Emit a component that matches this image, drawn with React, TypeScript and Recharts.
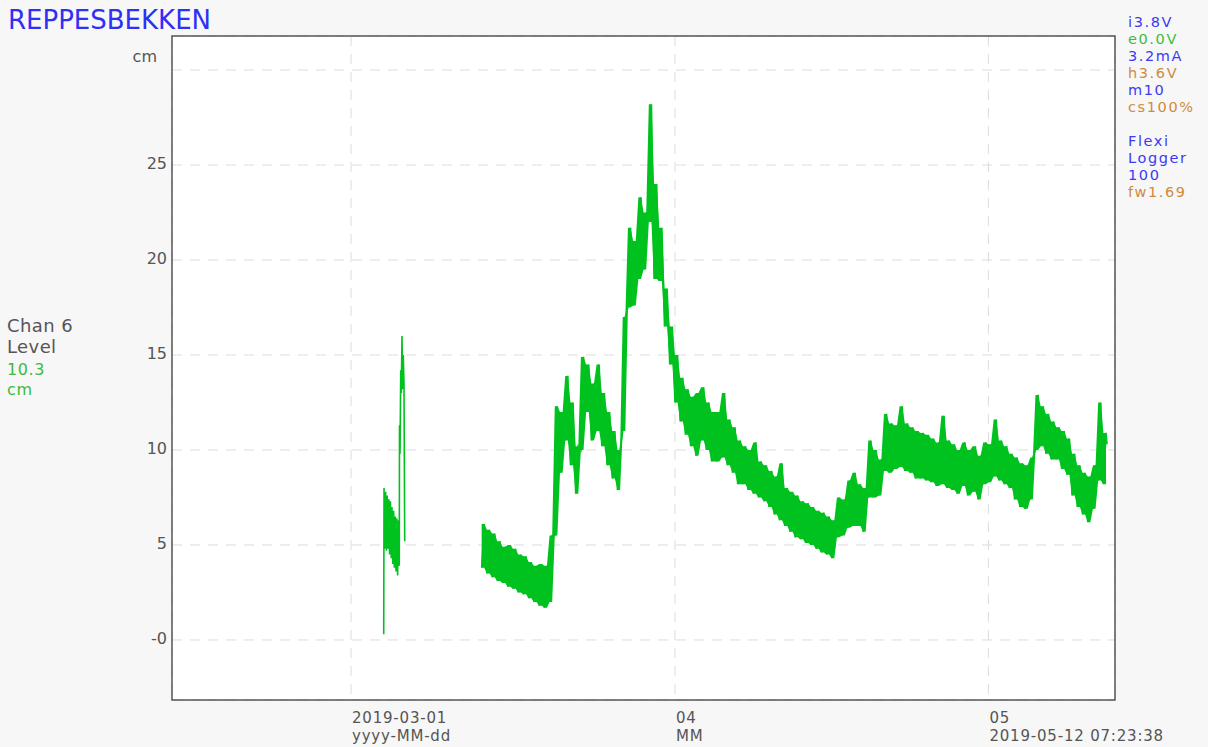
import { ComposedChart, Line, Area, XAxis, YAxis, CartesianGrid, ReferenceArea } from "recharts";

// days are counted from 2019-03-01 00:00
const burstDays = [3.13, 3.16, 3.23, 3.31, 3.39, 3.46, 3.54, 3.62, 3.69, 3.77, 3.85, 3.92, 4.0, 4.08, 4.15, 4.23, 4.31, 4.38, 4.46, 4.54, 4.62, 4.64, 4.69, 4.76, 4.81, 4.88, 4.94, 5.0, 5.07, 5.14];
const burstLevels = [0.3, 8.0, 4.8, 7.8, 4.7, 7.6, 4.8, 7.4, 4.5, 7.3, 4.3, 7.0, 4.0, 6.8, 3.8, 6.5, 3.6, 6.4, 3.4, 6.3, 3.9, 11.3, 9.8, 14.2, 13.0, 16.0, 13.2, 15.0, 13.5, 5.2];

// second record: low / high reading in each half-day
const bandStart = 12.5;
const bandStep = 0.5;
const bandLows = [
  3.8, 3.5, 3.3, 3.1, 3.0, 2.8, 2.7, 2.5, 2.4, 2.2, 2.0, 1.8, 1.7, 2.0, 5.5, 8.8, 10.5, 9.2, 7.7, 10.0,
  12.0, 10.5, 11.0, 10.2, 9.2, 8.5, 7.9, 11.0, 17.5, 17.6, 19.0, 19.5, 22.0, 19.0, 18.9, 16.5, 14.5, 12.5, 11.5, 10.8,
  10.2, 9.7, 10.5, 10.0, 9.4, 9.4, 9.6, 9.2, 8.8, 8.2, 8.2, 7.9, 7.7, 7.5, 7.3, 7.0, 6.6, 6.3, 6.0, 5.7,
  5.4, 5.3, 5.1, 5.0, 4.8, 4.6, 4.5, 4.3, 5.4, 5.5, 5.9, 6.0, 6.0, 5.7, 7.5, 7.5, 7.6, 8.9, 8.8, 9.0,
  9.1, 8.9, 8.8, 8.5, 8.5, 8.4, 8.3, 8.1, 8.2, 8.0, 7.9, 7.7, 8.1, 7.6, 7.8, 7.4, 8.2, 8.3, 8.6, 8.4,
  8.2, 8.0, 7.4, 7.0, 6.9, 7.4, 10.0, 10.2, 9.8, 9.5, 9.5, 9.0, 8.7, 7.6, 7.0, 6.6, 6.2, 6.9, 8.4, 8.2,
];
const bandHighs = [
  6.1, 5.8, 5.6, 5.2, 4.9, 5.0, 4.8, 4.5, 4.4, 4.1, 3.9, 4.0, 3.9, 5.5, 12.3, 12.0, 13.9, 12.5, 10.2, 14.9,
  14.5, 13.5, 14.5, 13.0, 12.0, 11.0, 10.0, 17.0, 21.7, 21.0, 23.3, 22.5, 28.2, 24.0, 21.7, 18.5, 16.5, 15.0, 13.8, 13.2,
  12.8, 13.0, 13.3, 12.5, 12.0, 12.0, 13.0, 11.6, 11.2, 10.5, 10.2, 10.0, 10.4, 9.4, 9.2, 8.9, 8.6, 9.3, 8.0, 7.8,
  7.6, 7.3, 7.2, 7.0, 6.8, 6.7, 6.5, 6.3, 7.5, 7.4, 8.4, 8.8, 8.2, 8.0, 10.5, 10.0, 9.5, 11.9, 11.4, 11.3,
  12.3, 11.4, 11.2, 11.0, 10.9, 10.8, 10.6, 10.4, 11.8, 10.5, 10.3, 10.0, 10.4, 10.0, 10.2, 9.7, 10.4, 10.3, 11.6, 10.5,
  10.2, 9.8, 9.6, 9.3, 9.2, 9.6, 12.9, 12.3, 11.9, 11.5, 11.2, 11.0, 10.6, 9.8, 9.2, 8.8, 8.6, 9.2, 12.5, 10.9,
];
const lastDay = 72.35;
const lastLevel = 10.3;

const yTicks = [0, 5, 10, 15, 20, 25, 30];
const xTicks = [0, 31, 61];
const xTickLines = [
  ["2019-03-01", "yyyy-MM-dd"],
  ["04", "MM"],
  ["05", "2019-05-12 07:23:38"],
];
const infoLines = [
  { text: "i3.8V", color: "#3b3bf2" },
  { text: "e0.0V", color: "#3cbc3c" },
  { text: "3.2mA", color: "#3b3bf2" },
  { text: "h3.6V", color: "#d08a40" },
  { text: "m10", color: "#3b3bf2" },
  { text: "cs100%", color: "#d08a40" },
  { text: "", color: "#3b3bf2" },
  { text: "Flexi", color: "#3b3bf2" },
  { text: "Logger", color: "#3b3bf2" },
  { text: "100", color: "#3b3bf2" },
  { text: "fw1.69", color: "#d08a40" },
];

const X_MIN = -17.13;
const X_MAX = 73.11;
const Y_MIN = -3.16;
const Y_MAX = 31.79;

const FONT = "'DejaVu Sans', sans-serif";
const GREEN = "#00c21f";

type Row = { day: number; level: number | null; range?: [number, number] | null };
const data: Row[] = [];
burstDays.forEach((d, i) => data.push({ day: d, level: burstLevels[i], range: null }));
data.push({ day: 8, level: null, range: null });
bandLows.forEach((lo, i) => {
  const d = bandStart + i * bandStep;
  const r: [number, number] = [lo, bandHighs[i]];
  data.push({ day: d, level: lo, range: r });
  data.push({ day: d + bandStep / 2, level: bandHighs[i], range: r });
});
data.push({ day: lastDay, level: lastLevel, range: null });

function YTick(props: any) {
  const { x, y, payload } = props;
  const v = payload.value;
  // the top tick carries no number, the unit sits above it instead
  if (v === 30) return null;
  return (
    <text x={x + 3} y={y + 4} textAnchor="end" fontSize={16} fill="#555" fontFamily={FONT}>
      {v === 0 ? "-0" : String(v)}
    </text>
  );
}

function XTick(props: any) {
  const { x, y, index } = props;
  const lines = xTickLines[index] || ["", ""];
  return (
    <g fontSize={15} fill="#555" fontFamily={FONT} letterSpacing={0.8}>
      <text x={x + 1} y={y + 15}>{lines[0]}</text>
      <text x={x + 1} y={y + 33}>{lines[1]}</text>
    </g>
  );
}

export default function App() {
  return (
    <div style={{ position: "absolute", left: 0, top: 0, width: 1208, height: 747, background: "#f7f7f7" }}>
      <ComposedChart
        width={1208}
        height={747}
        data={data}
        margin={{ top: 36, right: 93, bottom: 7, left: 132 }}
      >
        <CartesianGrid stroke="#dcdcdc" strokeDasharray="10 8" fill="#fff" fillOpacity={1} />
        <XAxis
          dataKey="day"
          type="number"
          domain={[X_MIN, X_MAX]}
          ticks={xTicks}
          allowDataOverflow
          height={40}
          axisLine={false}
          tickLine={false}
          tick={<XTick />}
        />
        <YAxis
          type="number"
          domain={[Y_MIN, Y_MAX]}
          ticks={yTicks}
          allowDataOverflow
          width={40}
          axisLine={false}
          tickLine={false}
          tick={<YTick />}
        />
        <ReferenceArea x1={X_MIN} x2={X_MAX} y1={Y_MIN} y2={Y_MAX} fill="none" stroke="#555" strokeWidth={1.5} />
        <Area
          type="linear"
          dataKey="range"
          stroke="none"
          fill={GREEN}
          fillOpacity={1}
          isAnimationActive={false}
          connectNulls={false}
        />
        <Line
          type="linear"
          dataKey="level"
          stroke={GREEN}
          strokeWidth={1.6}
          dot={false}
          isAnimationActive={false}
          connectNulls={false}
        />
      </ComposedChart>
      <svg
        width={1208}
        height={747}
        style={{ position: "absolute", left: 0, top: 0, pointerEvents: "none" }}
        fontFamily={FONT}
      >
        <text x={8} y={29} fontSize={26} fill="#2f2ff5">REPPESBEKKEN</text>
        <text x={157} y={62} fontSize={16} fill="#555" textAnchor="end">cm</text>
        <text x={7} y={332} fontSize={18} fill="#555" letterSpacing={0.4}>Chan 6</text>
        <text x={7} y={353} fontSize={18} fill="#555" letterSpacing={0.4}>Level</text>
        <text x={7} y={375} fontSize={16} fill="#3cbc3c" letterSpacing={0.6}>10.3</text>
        <text x={7} y={395} fontSize={16} fill="#3cbc3c" letterSpacing={0.6}>cm</text>
        {infoLines.map((l, i) => (
          <text key={i} x={1128} y={27 + i * 17} fontSize={14.5} letterSpacing={1.6} fill={l.color}>
            {l.text}
          </text>
        ))}
      </svg>
    </div>
  );
}
